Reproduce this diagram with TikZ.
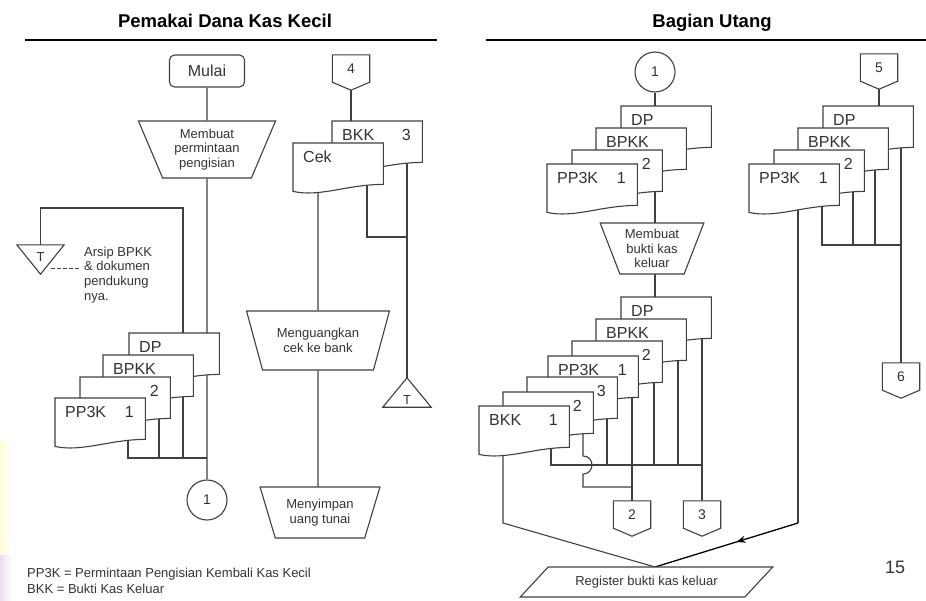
\documentclass[tikz,border=0pt]{standalone}
\usepackage{fontspec}
\setmainfont{Liberation Sans}
\usetikzlibrary{shapes.geometric,backgrounds,arrows.meta,decorations.markings}
\definecolor{ink}{HTML}{404040}
\definecolor{txt}{HTML}{333333}

\tikzset{
  ln/.style={draw=ink, line width=1.1pt},
  shp/.style={draw=ink, line width=1.1pt, fill=white},
  lblbig/.style={font=\fontsize{16}{19}\selectfont, text=txt, inner sep=0pt},
  lblsmall/.style={font=\fontsize{13}{14.8}\selectfont, text=txt, inner sep=0pt},
  lblnum/.style={font=\fontsize{14}{16}\selectfont, text=txt, inner sep=0pt},
  ttl/.style={font=\bfseries\fontsize{18.5}{22}\selectfont, text=black, inner sep=0pt, anchor=base},
  rulebar/.style={draw=black, line width=2.4pt},
  docph/.style={minimum width=90pt, minimum height=48pt, inner sep=0pt, anchor=north west},
  offph/.style={minimum width=37pt, minimum height=27pt, inner sep=0pt},
  termbox/.style={shp, rounded corners=5pt, minimum width=75pt, minimum height=32pt, inner sep=0pt, lblbig},
  connc/.style={shp, circle, minimum size=40pt, inner sep=0pt, lblnum},
  proc/.style={shp, trapezium, trapezium stretches=true, shape border rotate=180,
    trapezium left angle=67, trapezium right angle=67, inner sep=0pt, align=center, lblsmall},
  iodata/.style={shp, trapezium, trapezium stretches=true,
    trapezium left angle=31, trapezium right angle=149, inner sep=0pt, lblsmall},
  arcph/.style={minimum width=47pt, minimum height=29pt, inner sep=0pt},
}

% document symbol: name, left x, top y, title, number
\newcommand\mydoc[5]{%
  \node[docph] (#1) at (#2,#3) {};
  \draw[shp] (#1.north west) -- (#1.north east) -- ([yshift=7pt]#1.south east)
    .. controls ([xshift=-36pt,yshift=7pt]#1.south east) and ([xshift=27pt,yshift=-6pt]#1.south west) .. (#1.south west) -- cycle;
  \node[lblbig, anchor=west] (#1-l) at ([xshift=10pt,yshift=-14pt]#1.north west) {#4};
  \node[lblbig] (#1-n) at ([xshift=-16pt,yshift=-14pt]#1.north east) {#5};
}

% off-page connector: name, x, y of body centre, text
\newcommand\offpg[4]{%
  \node[offph] (#1) at (#2,#3) {};
  \draw[shp] (#1.north west) -- (#1.north east) -- (#1.south east) -- ([yshift=-8pt]#1.south) -- (#1.south west) -- cycle;
  \node[lblnum] (#1-l) at (#1) {#4};
}

\begin{document}
\begin{tikzpicture}[x=1pt, y=-1pt]
\useasboundingbox (0,0) rectangle (926,600);

% faint edge tint
\shade[left color=yellow!16, right color=white] (0,440) rectangle (12,555);
\shade[left color=violet!14, right color=white] (0,555) rectangle (12,600);

% ---------- headings ----------
\node[ttl] (t1) at (225,27.5) {Pemakai Dana Kas Kecil};
\node[ttl] (t2) at (712,27.5) {Bagian Utang};
\coordinate (r1a) at (25,40);  \coordinate (r1b) at (437,40);
\coordinate (r2a) at (486,40); \coordinate (r2b) at (926,40);
\draw[rulebar] (r1a) -- (r1b);
\draw[rulebar] (r2a) -- (r2b);

% ---------- Pemakai Dana Kas Kecil ----------
\node[termbox] (mulai) at (207,71) {Mulai};
\node[proc, minimum width=138pt, minimum height=57pt] (mb1) at (207,149.5) {Membuat\\permintaan\\pengisian};

\mydoc{aDP}{129}{333}{DP}{}
\mydoc{aBP}{103}{355}{BPKK}{}
\mydoc{aTwo}{80}{377}{}{2}
\mydoc{aPP}{55}{398}{PP3K}{1}

\node[arcph] (arsA) at (40.5,259.5) {};
\draw[shp] (arsA.north west) -- (arsA.north east) -- (arsA.south) -- cycle;
\node[lblsmall] (arsA-l) at ([yshift=2pt]arsA.center) {T};
\coordinate (dashA) at (51,268);
\node[lblsmall, anchor=west, align=left] (note) at (84,275) {Arsip BPKK\\\& dokumen\\pendukung\\nya.};
\draw[ln, line width=0.9pt, dash pattern=on 3.5pt off 2.5pt, shorten >=4pt] (dashA) -- (note.west |- dashA);

\node[connc] (c1) at (207,500) {1};

\offpg{c4}{351}{68.5}{4}
\mydoc{bBKK}{332}{121}{BKK}{3}
\mydoc{bCek}{293}{143}{Cek}{}

\node[proc, minimum width=143pt, minimum height=59pt, trapezium left angle=64, trapezium right angle=64] (mg) at (318,340.5) {Menguangkan\\cek ke bank};
\node[proc, minimum width=120pt, minimum height=51pt] (ms) at (320,512.5) {Menyimpan\\uang tunai};

\node[arcph, minimum width=48pt] (arsB) at (407,392.5) {};
\draw[shp] (arsB.south west) -- (arsB.south east) -- (arsB.north) -- cycle;
\node[lblsmall] (arsB-l) at ([yshift=-8pt]arsB.center) {T};

\node[lblsmall, anchor=west, align=left, font=\fontsize{13}{16}\selectfont] (legend) at (27,581)
  {PP3K = Permintaan Pengisian Kembali Kas Kecil\\BKK = Bukti Kas Keluar};

% ---------- Bagian Utang ----------
\node[connc] (r1) at (655,72) {1};
\mydoc{cDP}{621}{106}{DP}{}
\mydoc{cBP}{596}{128}{BPKK}{}
\mydoc{cTwo}{572}{150}{}{2}
\mydoc{cPP}{547}{164}{PP3K}{1}

\node[proc, minimum width=104pt, minimum height=51pt] (mb2) at (652,248.5) {Membuat\\bukti kas\\keluar};

\mydoc{dDP}{621}{297}{DP}{}
\mydoc{dBP}{596}{319}{BPKK}{}
\mydoc{dTwo}{572}{341}{}{2}
\mydoc{dPP}{548}{356}{PP3K}{1}
\mydoc{dThree}{527}{377}{}{3}
\mydoc{dTwoB}{503}{392}{}{2}
\mydoc{dBKK}{479}{406}{BKK}{1}

\offpg{off2}{632}{514.5}{2}
\offpg{off3}{702}{514.5}{3}

\offpg{off5}{879}{67.5}{5}
\mydoc{eDP}{823}{106}{DP}{}
\mydoc{eBP}{798}{128}{BPKK}{}
\mydoc{eTwo}{774}{150}{}{2}
\mydoc{ePP}{749}{164}{PP3K}{1}
\offpg{off6}{901}{376.5}{6}

\node[iodata, minimum width=253pt, minimum height=30pt] (reg) at (646.5,582) {Register bukti kas keluar};
\coordinate (regIn) at (655,567);

\node[font=\fontsize{18}{20}\selectfont, text=txt, inner sep=0pt] (pg) at (895,567) {15};

% ---------- flow lines ----------
\begin{pgfonlayer}{background}
  % left column
  \coordinate (aBus1) at (128,458);
  \coordinate (aBus2) at (159,458);
  \coordinate (aBus3) at (183,458);
  \coordinate (aBus4) at (207,458);
  \coordinate (arcTurn) at (183,208);
  \draw[ln] (mulai) -- (mb1) -- (c1);
  \draw[ln] (aPP.center -| aBus1) -- (aBus1) -- (aBus4);
  \draw[ln] (aTwo.center -| aBus2) -- (aBus2);
  \draw[ln] (aBP.center -| aBus3) -- (aBus3);
  \draw[ln] (aDP.center -| arcTurn) -- (arcTurn) -- (arcTurn -| arsA) -- (arsA);

  % cheque column
  \coordinate (bJ1) at (367,237);
  \coordinate (bJ2) at (407,237);
  \draw[ln] (c4) -- (c4 |- bBKK.center);
  \draw[ln] (bCek.center -| mg) -- (mg) -- (mg |- ms);
  \draw[ln] (bCek.center -| bJ1) -- (bJ1) -- (bJ2);
  \draw[ln] (bBKK.center -| bJ2) -- (arsB);

  % Bagian Utang, first stack
  \draw[ln] (r1) -- (r1 |- dDP.center);

  % second stack
  \coordinate (dB1) at (551,465);
  \coordinate (dB3) at (607,465);
  \coordinate (dB5) at (654,465);
  \coordinate (dB6) at (678,465);
  \coordinate (dB7) at (702,465);
  \coordinate (hopTop) at (583,456);
  \coordinate (hopBot) at (583,474);
  \coordinate (hopEnd) at (583,487);
  \coordinate (dBend) at (503,523);
  \draw[ln] (dBKK.center -| dB1) -- (dB1) -- (dB7);
  \draw[ln] (dThree.center -| dB3) -- (dB3);
  \draw[ln] (dTwo.center -| dB5) -- (dB5);
  \draw[ln] (dBP.center -| dB6) -- (dB6);
  \draw[ln] (dDP.center -| dB7) -- (off3);
  \draw[ln] (dPP.center -| off2) -- (off2);
  \draw[ln] (dTwoB.center -| hopTop) -- (hopTop) .. controls +(12,0) and +(12,0) .. (hopBot) -- (hopEnd) -- (hopEnd -| off2);
  \draw[ln] (dBKK.center -| dBend) -- (dBend) -- (regIn);

  % right column
  \coordinate (eB1) at (822,245);
  \coordinate (eB2) at (853,245);
  \coordinate (eB3) at (875,245);
  \coordinate (eB4) at (901,245);
  \coordinate (eBend) at (798,523);
  \draw[ln] (off5) -- (off5 |- eDP.center);
  \draw[ln] (ePP.center -| eB1) -- (eB1) -- (eB4);
  \draw[ln] (eTwo.center -| eB2) -- (eB2);
  \draw[ln] (eBP.center -| eB3) -- (eB3);
  \draw[ln] (eDP.center -| eB4) -- (off6);
  \draw[ln] (ePP.center -| eBend) -- (eBend);
  \draw[draw=black, line width=1.3pt,
    decoration={markings, mark=at position 0.43 with {\arrow{Stealth[length=9pt,width=7pt]}}},
    postaction={decorate}] (eBend) -- (regIn);
\end{pgfonlayer}
\end{tikzpicture}
\end{document}
